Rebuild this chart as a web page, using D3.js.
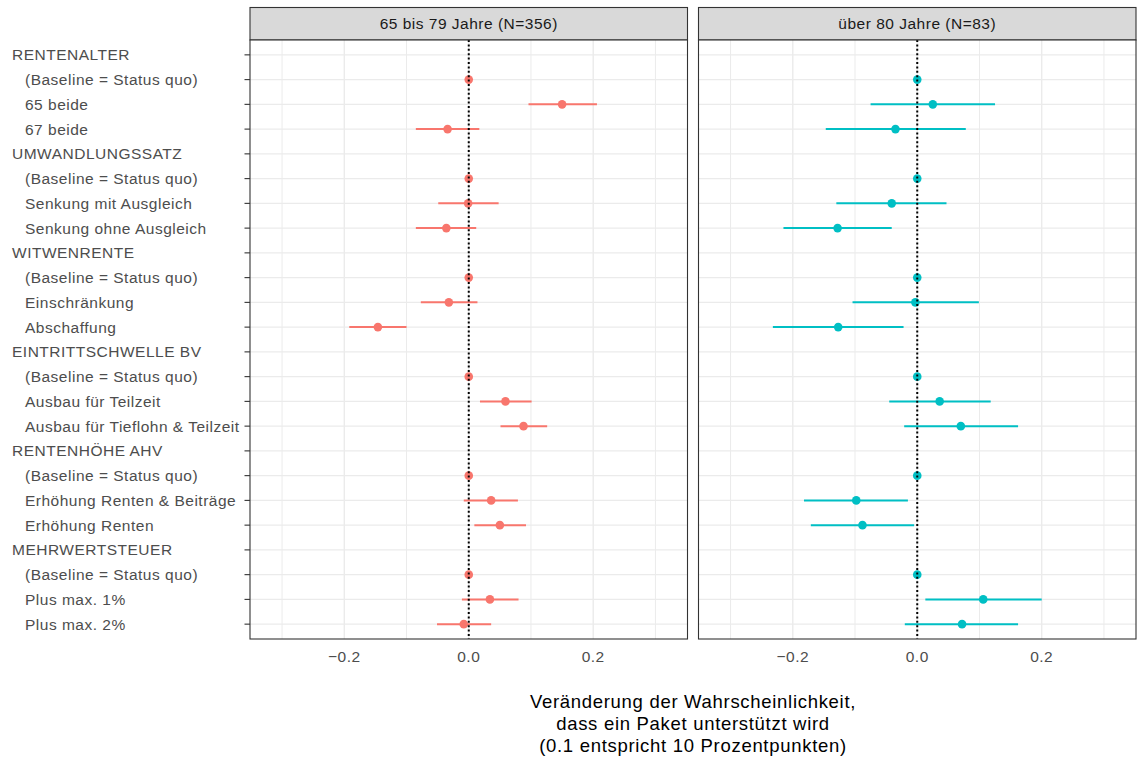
<!DOCTYPE html>
<html>
<head>
<meta charset="utf-8">
<script src="https://cdn.jsdelivr.net/npm/d3@7"></script>
<style>
  html, body { margin: 0; padding: 0; background: #fff; }
  text { font-family: "Liberation Sans", Arial, Helvetica, sans-serif; }
</style>
</head>
<body>
<svg id="chart" width="1139" height="758"></svg>
<script>
// ---------- data ----------
const groups = ["RENTENALTER", "UMWANDLUNGSSATZ", "WITWENRENTE", "EINTRITTSCHWELLE BV", "RENTENHÖHE AHV", "MEHRWERTSTEUER"];
const levels = [
  ["(Baseline = Status quo)", "65 beide", "67 beide"],
  ["(Baseline = Status quo)", "Senkung mit Ausgleich", "Senkung ohne Ausgleich"],
  ["(Baseline = Status quo)", "Einschränkung", "Abschaffung"],
  ["(Baseline = Status quo)", "Ausbau für Teilzeit", "Ausbau für Tieflohn & Teilzeit"],
  ["(Baseline = Status quo)", "Erhöhung Renten & Beiträge", "Erhöhung Renten"],
  ["(Baseline = Status quo)", "Plus max. 1%", "Plus max. 2%"]
];
const panels = ["65 bis 79 Jahre (N=356)", "über 80 Jahre (N=83)"];
const panelColors = ["#F8766D", "#00BFC4"];
const xTicks = [-0.2, 0.0, 0.2];
const xMinor = [-0.3, -0.1, 0.1, 0.3];

// estimates per item (in order of levels, flattened), per panel
const est65 = [0, 0.150, -0.034, 0, -0.001, -0.036, 0, -0.032, -0.146, 0, 0.059, 0.088, 0, 0.036, 0.050, 0, 0.034, -0.008];
const lo65  = [0, 0.096, -0.085, 0, -0.049, -0.085, 0, -0.077, -0.192, 0, 0.018, 0.051, 0, -0.008, 0.009, 0, -0.011, -0.051];
const hi65  = [0, 0.206,  0.017, 0,  0.048,  0.012, 0,  0.014, -0.100, 0, 0.101, 0.126, 0,  0.079, 0.092, 0,  0.080,  0.036];
const est80 = [0, 0.025, -0.035, 0, -0.041, -0.128, 0, -0.003, -0.127, 0, 0.036, 0.070, 0, -0.098, -0.088, 0, 0.106, 0.072];
const lo80  = [0, -0.075, -0.147, 0, -0.130, -0.215, 0, -0.104, -0.232, 0, -0.045, -0.021, 0, -0.182, -0.171, 0, 0.013, -0.020];
const hi80  = [0, 0.125,  0.078, 0,  0.047, -0.041, 0,  0.099, -0.022, 0,  0.118,  0.162, 0, -0.015, -0.005, 0, 0.200,  0.162];
const axisTitle = ["Veränderung der Wahrscheinlichkeit,", "dass ein Paket unterstützt wird", "(0.1 entspricht 10 Prozentpunkten)"];

// ---------- build rows ----------
const rows = [];       // {key, label, header}
const items = [];      // {key}
groups.forEach((g, gi) => {
  rows.push({ key: "h" + gi, label: g, header: true });
  levels[gi].forEach((l, li) => {
    const key = "i" + gi + "_" + li;
    rows.push({ key, label: l, header: false });
    items.push({ key });
  });
});
const panelData = [
  items.map((d, i) => ({ key: d.key, est: est65[i], lo: lo65[i], hi: hi65[i] })),
  items.map((d, i) => ({ key: d.key, est: est80[i], lo: lo80[i], hi: hi80[i] }))
];

// ---------- layout ----------
const svg = d3.select("#chart");
const panelTop = 40, panelBottom = 639, stripTop = 7.5;
const panelX = [[250, 687.5], [698.5, 1136]];
const y = d3.scalePoint().domain(rows.map(r => r.key)).range([panelTop, panelBottom]).padding(0.6);
const xDomain = [-0.3515, 0.3515];
const labelFont = "15.5px", labelLS = "0.5px";

panels.forEach((title, pi) => {
  const [x0, x1] = panelX[pi];
  const x = d3.scaleLinear().domain(xDomain).range([x0, x1]);
  const g = svg.append("g");

  // strip
  g.append("rect").attr("x", x0).attr("y", stripTop).attr("width", x1 - x0).attr("height", panelTop - stripTop)
    .attr("fill", "#D9D9D9").attr("stroke", "#333333").attr("stroke-width", 1.1);
  g.append("text").attr("x", (x0 + x1) / 2).attr("y", (stripTop + panelTop) / 2).attr("dy", "0.36em")
    .attr("text-anchor", "middle").attr("fill", "#1A1A1A").style("font-size", labelFont).style("letter-spacing", labelLS)
    .text(title);

  // panel background
  g.append("rect").attr("x", x0).attr("y", panelTop).attr("width", x1 - x0).attr("height", panelBottom - panelTop)
    .attr("fill", "#fff");

  // minor grid
  g.selectAll(".minor").data(xMinor).enter().append("line")
    .attr("x1", d => x(d)).attr("x2", d => x(d)).attr("y1", panelTop).attr("y2", panelBottom)
    .attr("stroke", "#EBEBEB").attr("stroke-width", 1);
  // major grid vertical
  g.selectAll(".majorx").data(xTicks).enter().append("line")
    .attr("x1", d => x(d)).attr("x2", d => x(d)).attr("y1", panelTop).attr("y2", panelBottom)
    .attr("stroke", "#EBEBEB").attr("stroke-width", 1.4);
  // major grid horizontal
  g.selectAll(".majory").data(rows).enter().append("line")
    .attr("x1", x0).attr("x2", x1).attr("y1", d => y(d.key)).attr("y2", d => y(d.key))
    .attr("stroke", "#EBEBEB").attr("stroke-width", 1.4);

  // error bars
  const data = panelData[pi];
  g.selectAll(".err").data(data.filter(d => d.hi !== d.lo)).enter().append("line")
    .attr("x1", d => x(d.lo)).attr("x2", d => x(d.hi)).attr("y1", d => y(d.key)).attr("y2", d => y(d.key))
    .attr("stroke", panelColors[pi]).attr("stroke-width", 2);
  // points
  g.selectAll(".pt").data(data).enter().append("circle")
    .attr("cx", d => x(d.est)).attr("cy", d => y(d.key)).attr("r", 4.3)
    .attr("fill", panelColors[pi]);

  // zero dotted line
  g.append("line").attr("x1", x(0)).attr("x2", x(0)).attr("y1", panelTop).attr("y2", panelBottom)
    .attr("stroke", "#000").attr("stroke-width", 2).attr("stroke-dasharray", "2,2.4");

  // border
  g.append("rect").attr("x", x0).attr("y", panelTop).attr("width", x1 - x0).attr("height", panelBottom - panelTop)
    .attr("fill", "none").attr("stroke", "#333333").attr("stroke-width", 1.1);

  // x tick labels
  g.selectAll(".xtl").data(xTicks).enter().append("text")
    .attr("x", d => x(d)).attr("y", 662).attr("text-anchor", "middle")
    .attr("fill", "#4D4D4D").style("font-size", labelFont).style("letter-spacing", labelLS)
    .text(d => d3.format(".1f")(d).replace("-", "\u2212"));

  // y axis for first panel only
  if (pi === 0) {
    const ya = svg.append("g");
    ya.selectAll(".yt").data(rows).enter().append("line")
      .attr("x1", x0 - 5.5).attr("x2", x0).attr("y1", d => y(d.key)).attr("y2", d => y(d.key))
      .attr("stroke", "#333333").attr("stroke-width", 1.1);
    ya.selectAll(".yl").data(rows).enter().append("text")
      .attr("x", d => d.header ? 12 : 25).attr("y", d => y(d.key)).attr("dy", "0.36em")
      .attr("fill", "#4D4D4D").style("font-size", labelFont).style("letter-spacing", labelLS)
      .text(d => d.label);
  }
});

// axis title
const cx = (panelX[0][0] + panelX[1][1]) / 2;
svg.append("g").selectAll("text").data(axisTitle).enter().append("text")
  .attr("x", cx).attr("y", (d, i) => 708 + i * 22).attr("text-anchor", "middle")
  .attr("fill", "#000").style("font-size", "18.5px").style("letter-spacing", "0.7px")
  .text(d => d);
</script>
</body>
</html>
